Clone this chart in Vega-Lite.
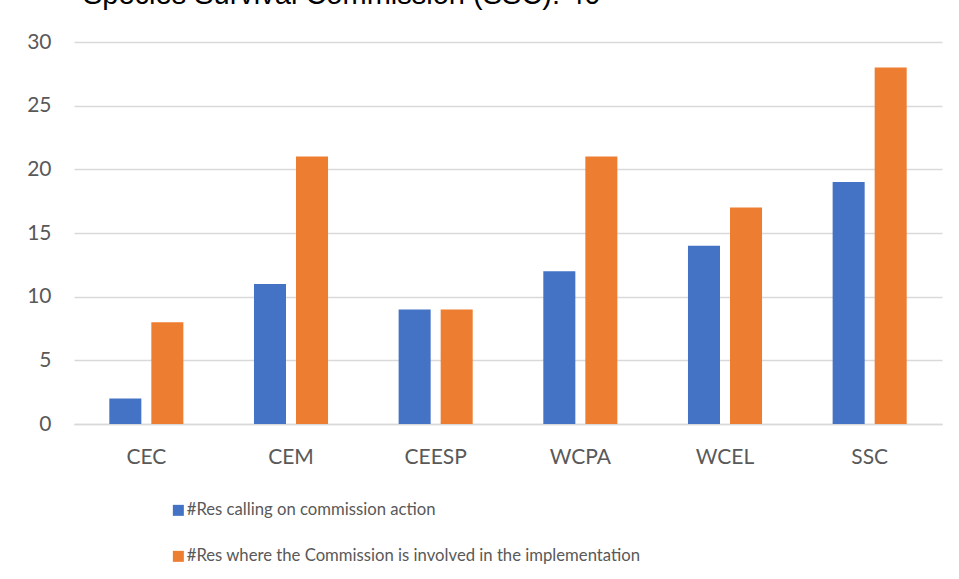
{
  "$schema": "https://vega.github.io/schema/vega-lite/v6.json",
  "width": 868,
  "height": 382,
  "autosize": {"type": "none"},
  "padding": {"left": 74, "top": 42, "right": 17, "bottom": 155},
  "background": "white",
  "title": {
    "text": "Species Survival Commission (SSC): 40",
    "anchor": "start",
    "frame": "group",
    "font": "Liberation Sans",
    "fontSize": 29,
    "fontWeight": "normal",
    "color": "#000000",
    "baseline": "alphabetic",
    "offset": 20,
    "dx": 9,
    "dy": 22
  },
  "data": {
    "values": [
      {"commission": "CEC", "series": "#Res calling on commission action", "value": 2},
      {"commission": "CEC", "series": "#Res where the Commission is involved in the implementation", "value": 8},
      {"commission": "CEM", "series": "#Res calling on commission action", "value": 11},
      {"commission": "CEM", "series": "#Res where the Commission is involved in the implementation", "value": 21},
      {"commission": "CEESP", "series": "#Res calling on commission action", "value": 9},
      {"commission": "CEESP", "series": "#Res where the Commission is involved in the implementation", "value": 9},
      {"commission": "WCPA", "series": "#Res calling on commission action", "value": 12},
      {"commission": "WCPA", "series": "#Res where the Commission is involved in the implementation", "value": 21},
      {"commission": "WCEL", "series": "#Res calling on commission action", "value": 14},
      {"commission": "WCEL", "series": "#Res where the Commission is involved in the implementation", "value": 17},
      {"commission": "SSC", "series": "#Res calling on commission action", "value": 19},
      {"commission": "SSC", "series": "#Res where the Commission is involved in the implementation", "value": 28}
    ]
  },
  "mark": {"type": "bar"},
  "encoding": {
    "x": {
      "field": "commission",
      "type": "nominal",
      "sort": ["CEC", "CEM", "CEESP", "WCPA", "WCEL", "SSC"],
      "scale": {"paddingInner": 0, "paddingOuter": 0},
      "axis": {
        "title": null,
        "labelAngle": 0,
        "domain": true,
        "domainColor": "#d9d9d9",
        "domainWidth": 1.5,
        "ticks": false,
        "grid": false,
        "labelFont": "Lato",
        "labelFontSize": 21,
        "labelColor": "#595959",
        "labelBaseline": "alphabetic",
        "labelPadding": 39
      }
    },
    "xOffset": {
      "field": "series",
      "type": "nominal",
      "sort": ["#Res calling on commission action", "#Res where the Commission is involved in the implementation"],
      "scale": {"paddingInner": 0.238, "paddingOuter": 0.84}
    },
    "y": {
      "field": "value",
      "type": "quantitative",
      "scale": {"domain": [0, 30], "nice": false},
      "axis": {
        "title": null,
        "values": [0, 5, 10, 15, 20, 25, 30],
        "domain": false,
        "ticks": false,
        "grid": true,
        "gridColor": "#d9d9d9",
        "gridWidth": 1.5,
        "labelFont": "Lato",
        "labelFontSize": 21,
        "labelColor": "#595959",
        "labelPadding": 23
      }
    },
    "color": {
      "field": "series",
      "type": "nominal",
      "sort": ["#Res calling on commission action", "#Res where the Commission is involved in the implementation"],
      "scale": {"range": ["#4472C4", "#ED7D31"]},
      "legend": {
        "title": null,
        "orient": "none",
        "legendX": 96,
        "legendY": 460,
        "direction": "vertical",
        "symbolType": "square",
        "symbolSize": 121,
        "symbolStrokeWidth": 0,
        "labelFont": "Lato",
        "labelFontSize": 16.7,
        "labelColor": "#595959",
        "labelOffset": 0,
        "rowPadding": 28,
        "labelLimit": 800
      }
    }
  },
  "config": {"view": {"stroke": null}}
}
